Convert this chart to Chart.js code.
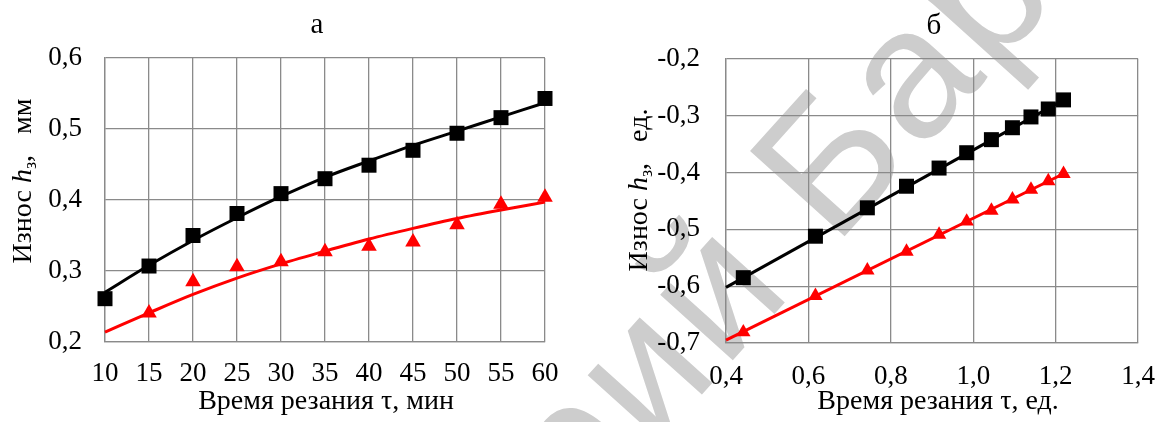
<!DOCTYPE html>
<html><head><meta charset="utf-8">
<script src="https://cdn.jsdelivr.net/npm/chart.js@4.4.1/dist/chart.umd.min.js"></script>
<style>
html,body{margin:0;padding:0;background:#fff;overflow:hidden;width:1173px;height:422px}
#ca{position:absolute;left:0;top:0}
#cb{position:absolute;left:590px;top:0}
</style></head><body>
<canvas id="ca" width="590" height="422"></canvas>
<canvas id="cb" width="583" height="422"></canvas>
<script>
// ---------- Chart "а" data ----------
const timeA = [10, 15, 20, 25, 30, 35, 40, 45, 50, 55, 60];
const wearBlackA = [0.261, 0.307, 0.350, 0.381, 0.409, 0.430, 0.449, 0.470, 0.494, 0.516, 0.543];
const trendBlackA = [0.270, 0.308, 0.343, 0.375, 0.405, 0.432, 0.455, 0.477, 0.497, 0.517, 0.537];
const wearRedA = [null, 0.241, 0.285, 0.306, 0.313, 0.327, 0.335, 0.341, 0.365, 0.394, 0.404];
const trendRedA = [0.214, 0.241, 0.267, 0.290, 0.310, 0.328, 0.345, 0.360, 0.374, 0.386, 0.397];
const xTicksA = [10, 15, 20, 25, 30, 35, 40, 45, 50, 55, 60];
const xLabelsA = ['10', '15', '20', '25', '30', '35', '40', '45', '50', '55', '60'];
const yTicksA = [0.2, 0.3, 0.4, 0.5, 0.6];
const yLabelsA = ['0,2', '0,3', '0,4', '0,5', '0,6'];

// ---------- Chart "б" data ----------
const timeB = [0.442, 0.617, 0.743, 0.838, 0.917, 0.984, 1.044, 1.095, 1.140, 1.182, 1.219];
const wearBlackB = [-0.585, -0.512, -0.462, -0.424, -0.392, -0.365, -0.342, -0.321, -0.302, -0.288, -0.272];
const wearRedB = [-0.681, -0.617, -0.572, -0.539, -0.509, -0.486, -0.467, -0.447, -0.430, -0.415, -0.402];
const trendXB = [0.4, 1.219];
const trendBlackB = [-0.602, -0.272];
const trendRedB = [-0.695, -0.402];
const xTicksB = [0.4, 0.6, 0.8, 1.0, 1.2, 1.4];
const xLabelsB = ['0,4', '0,6', '0,8', '1,0', '1,2', '1,4'];
const yTicksB = [-0.7, -0.6, -0.5, -0.4, -0.3, -0.2];
const yLabelsB = ['-0,7', '-0,6', '-0,5', '-0,4', '-0,3', '-0,2'];

// ---------- texts ----------
const titleA = 'а', titleB = 'б';
const xTitleA = 'Время резания τ, мин';
const xTitleB = 'Время резания τ, ед.';
const yUnitA = 'мм', yUnitB = 'ед.';
const wmPre = 'Репозиторий ', wmKey = 'Б', wmPost = 'арГУ';

const SERIF = '"Liberation Serif", "Times New Roman", serif';
const GRID = '#8a8a8a';
const RED = '#ff0000';

function pts(xs, ys) { return xs.map((x, i) => ({x: x, y: ys[i]})); }

// watermark drawn glyph by glyph along a rotated baseline
function drawWatermark(ctx, ox) {
  const size = 185, th = -48 * Math.PI / 180, spacing = 5;
  const cx = 826, cy = 158; // page position of the centre of the letter "Б"
  const text = wmPre + wmKey + wmPost;
  ctx.save();
  ctx.translate(-ox, 0);
  ctx.font = size + 'px "Liberation Sans", Arial, sans-serif';
  ctx.fillStyle = '#cdcdcd';
  ctx.textBaseline = 'alphabetic';
  ctx.textAlign = 'left';
  const chars = Array.from(text);
  const adv = chars.map(ch => ctx.measureText(ch).width + spacing);
  const keyIdx = Array.from(wmPre).length;
  let pre = 0;
  for (let i = 0; i < keyIdx; i++) pre += adv[i];
  const kw = ctx.measureText(wmKey).width;
  const c = Math.cos(th), s = Math.sin(th);
  const ux = pre + kw / 2, uy = -0.358 * size;
  const bx = cx - (ux * c - uy * s), by = cy - (ux * s + uy * c);
  let d = 0;
  chars.forEach((ch, i) => {
    ctx.save();
    ctx.translate(bx + d * c, by + d * s);
    ctx.rotate(th);
    ctx.fillText(ch, 0, 0);
    ctx.restore();
    d += adv[i];
  });
  ctx.restore();
}

function drawYTitle(ctx, bx, cy, unit) {
  const parts = [
    {t: 'Износ ', f: '28px ' + SERIF, dy: 0},
    {t: 'h', f: 'italic 28px ' + SERIF, dy: 0},
    {t: 'з', f: '18px ' + SERIF, dy: 5},
    {t: ',', f: '28px ' + SERIF, dy: 0},
    {t: '   ', f: '28px ' + SERIF, dy: 0},
    {t: unit, f: '28px ' + SERIF, dy: 0}
  ];
  ctx.save();
  let total = 0;
  parts.forEach(p => { ctx.font = p.f; p.w = ctx.measureText(p.t).width; total += p.w; });
  ctx.translate(bx, cy);
  ctx.rotate(-Math.PI / 2);
  ctx.fillStyle = '#000';
  ctx.textBaseline = 'alphabetic';
  ctx.textAlign = 'left';
  let x = -total / 2;
  parts.forEach(p => { ctx.font = p.f; ctx.fillText(p.t, x, p.dy); x += p.w; });
  ctx.restore();
}

function textPlugin(cfg) {
  return {
    id: 'texts' + cfg.ox,
    beforeDraw(chart) { drawWatermark(chart.ctx, cfg.ox); },
    afterDraw(chart) {
      const ctx = chart.ctx;
      ctx.save();
      ctx.fillStyle = '#000';
      ctx.textAlign = 'center';
      ctx.textBaseline = 'alphabetic';
      ctx.font = '29px ' + SERIF;
      ctx.fillText(cfg.title, cfg.tx, cfg.ty);
      ctx.font = '28px ' + SERIF;
      ctx.fillText(cfg.xTitle, cfg.xx, cfg.xy);
      ctx.restore();
      drawYTitle(ctx, cfg.yx, cfg.yy, cfg.unit);
    }
  };
}

function scales(o) {
  return {
    x: {
      type: 'linear', min: o.xmin, max: o.xmax,
      afterBuildTicks: s => { s.ticks = o.xt.map(v => ({value: v})); },
      afterFit: s => { s.height = o.xh; },
      ticks: {callback: (v, i) => o.xl[i], font: {family: SERIF, size: 27}, color: '#000',
              padding: o.xpad, maxRotation: 0, autoSkip: false},
      grid: {color: GRID, lineWidth: 1.3, drawTicks: false},
      border: {color: GRID, width: 1.3}
    },
    y: {
      type: 'linear', min: o.ymin, max: o.ymax,
      afterBuildTicks: s => { s.ticks = o.yt.map(v => ({value: v})); },
      afterFit: s => { s.width = o.yw; },
      ticks: {callback: (v, i) => o.yl[i], font: {family: SERIF, size: 27}, color: '#000',
              padding: o.ypad, autoSkip: false},
      grid: {color: GRID, lineWidth: 1.3, drawTicks: false},
      border: {color: GRID, width: 1.3}
    }
  };
}

const common = {
  responsive: false, animation: false, devicePixelRatio: 1,
  plugins: {legend: {display: false}, tooltip: {enabled: false}, title: {display: false}},
  events: []
};

// ---------- Chart а ----------
new Chart(document.getElementById('ca'), {
  type: 'line',
  data: {datasets: [
    {data: pts(timeA, wearBlackA), showLine: false, pointStyle: 'rect', pointRadius: 10.6,
     pointBackgroundColor: '#000', pointBorderWidth: 0, clip: false, order: 1},
    {data: pts(timeA, wearRedA), showLine: false, pointStyle: 'triangle', pointRadius: 9,
     pointBackgroundColor: RED, pointBorderWidth: 0, clip: false, order: 2},
    {data: pts(timeA, trendBlackA), borderColor: '#000', borderWidth: 3, pointRadius: 0,
     cubicInterpolationMode: 'monotone', clip: false, order: 3},
    {data: pts(timeA, trendRedA), borderColor: RED, borderWidth: 3, pointRadius: 0,
     cubicInterpolationMode: 'monotone', clip: false, order: 4}
  ]},
  options: Object.assign({}, common, {
    layout: {padding: {left: 0, top: 58, right: 45, bottom: 0}},
    scales: scales({xmin: 10, xmax: 60, xt: xTicksA, xl: xLabelsA, xh: 80, xpad: 16,
                    ymin: 0.2, ymax: 0.6, yt: yTicksA, yl: yLabelsA, yw: 105, ypad: 23})
  }),
  plugins: [textPlugin({ox: 0, title: titleA, tx: 317, ty: 33, xTitle: xTitleA, xx: 326, xy: 409,
                        yx: 31, yy: 181, unit: yUnitA})]
});

// ---------- Chart б ----------
new Chart(document.getElementById('cb'), {
  type: 'line',
  data: {datasets: [
    {data: pts(timeB, wearBlackB), showLine: false, pointStyle: 'rect', pointRadius: 10.6,
     pointBackgroundColor: '#000', pointBorderWidth: 0, clip: false, order: 1},
    {data: pts(timeB, wearRedB), showLine: false, pointStyle: 'triangle', pointRadius: 8.3,
     pointBackgroundColor: RED, pointBorderWidth: 0, clip: false, order: 2},
    {data: pts(trendXB, trendBlackB), borderColor: '#000', borderWidth: 3, pointRadius: 0, clip: false, order: 3},
    {data: pts(trendXB, trendRedB), borderColor: RED, borderWidth: 3, pointRadius: 0, clip: false, order: 4}
  ]},
  options: Object.assign({}, common, {
    layout: {padding: {left: 0, top: 59, right: 19, bottom: 0}},
    scales: scales({xmin: 0.4, xmax: 1.4, xt: xTicksB, xl: xLabelsB, xh: 79, xpad: 18,
                    ymin: -0.7, ymax: -0.2, yt: yTicksB, yl: yLabelsB, yw: 136, ypad: 26})
  }),
  plugins: [textPlugin({ox: 590, title: titleB, tx: 344, ty: 34, xTitle: xTitleB, xx: 348, xy: 409,
                        yx: 57, yy: 190, unit: yUnitB})]
});
</script>
</body></html>
